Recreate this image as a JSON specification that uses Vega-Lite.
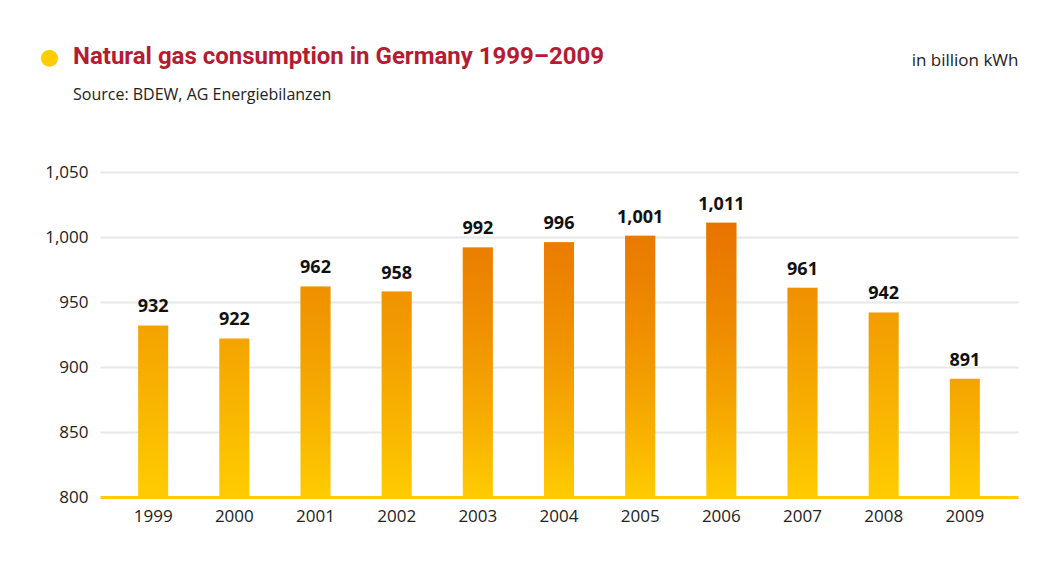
{
  "$schema": "https://vega.github.io/schema/vega-lite/v6.json",
  "width": 918,
  "height": 325,
  "autosize": {"type": "none"},
  "padding": {"left": 100, "top": 172, "right": 26, "bottom": 70},
  "background": "white",
  "title": {
    "text": "Natural gas consumption in Germany 1999–2009",
    "subtitle": "Source: BDEW, AG Energiebilanzen",
    "anchor": "start",
    "frame": "group",
    "dx": -27,
    "dy": 98,
    "font": "Liberation Sans Narrow, Roboto, sans-serif",
    "fontSize": 24,
    "fontWeight": "bold",
    "color": "#B51B32",
    "subtitleFont": "Open Sans",
    "subtitleFontSize": 16,
    "subtitleColor": "#222222",
    "subtitlePadding": 18,
    "offset": 40
  },
  "data": {
    "values": [
      {"year": "1999", "value": 932},
      {"year": "2000", "value": 922},
      {"year": "2001", "value": 962},
      {"year": "2002", "value": 958},
      {"year": "2003", "value": 992},
      {"year": "2004", "value": 996},
      {"year": "2005", "value": 1001},
      {"year": "2006", "value": 1011},
      {"year": "2007", "value": 961},
      {"year": "2008", "value": 942},
      {"year": "2009", "value": 891}
    ]
  },
  "encoding": {
    "x": {
      "field": "year",
      "type": "ordinal",
      "scale": {"paddingInner": 0.63, "paddingOuter": 0.47},
      "axis": {
        "labelAngle": 0,
        "ticks": false,
        "grid": false,
        "domainColor": "#FFCC00",
        "domainWidth": 3,
        "labelPadding": 11,
        "labelFont": "Open Sans",
        "labelFontSize": 17,
        "labelColor": "#222222",
        "zindex": 1,
        "title": "●",
        "titleColor": "#FFCC00",
        "titleFont": "DejaVu Sans",
        "titleFontSize": 22,
        "titleX": -51,
        "titleY": -441,
        "titleAlign": "center",
        "titleBaseline": "middle"
      }
    },
    "y": {
      "field": "value",
      "type": "quantitative",
      "scale": {"domain": [800, 1050], "zero": false, "nice": false},
      "axis": {
        "domain": false,
        "ticks": false,
        "values": [800, 850, 900, 950, 1000, 1050],
        "format": ",d",
        "gridColor": "#E8E8E8",
        "gridWidth": 2,
        "labelPadding": 12,
        "labelFont": "Open Sans",
        "labelFontSize": 17,
        "labelColor": "#222222",
        "title": "in billion kWh",
        "titleAngle": 0,
        "titleAlign": "right",
        "titleBaseline": "alphabetic",
        "titleX": 918,
        "titleY": -107,
        "titleFont": "Open Sans",
        "titleFontSize": 17,
        "titleFontWeight": "normal",
        "titleColor": "#222222"
      }
    }
  },
  "layer": [
    {
      "mark": {
        "type": "bar",
        "fill": {
          "gradient": "linear",
          "x1": 0, "y1": 1, "x2": 0, "y2": 0,
          "stops": [
            {"offset": 0, "color": "#FFCC00"},
            {"offset": 1, "color": "#F4A300"}
          ]
        }
      },
      "encoding": {"y2": {"datum": 800}}
    },
    {
      "mark": {
        "type": "bar",
        "fill": {
          "gradient": "linear",
          "x1": 0, "y1": 1, "x2": 0, "y2": 0,
          "stops": [
            {"offset": 0, "color": "rgba(232,115,0,0)"},
            {"offset": 1, "color": "rgba(232,115,0,1)"}
          ]
        }
      },
      "encoding": {
        "y2": {"datum": 800},
        "opacity": {
          "field": "value",
          "type": "quantitative",
          "scale": {"domain": [930, 1012], "range": [0, 1], "clamp": true},
          "legend": null
        }
      }
    },
    {
      "mark": {
        "type": "text",
        "baseline": "alphabetic",
        "dy": -13,
        "font": "Open Sans",
        "fontSize": 18,
        "fontWeight": "bold",
        "color": "#111111"
      },
      "encoding": {
        "text": {"field": "value", "type": "quantitative", "format": ",d"}
      }
    }
  ],
  "config": {"view": {"stroke": null}}
}
